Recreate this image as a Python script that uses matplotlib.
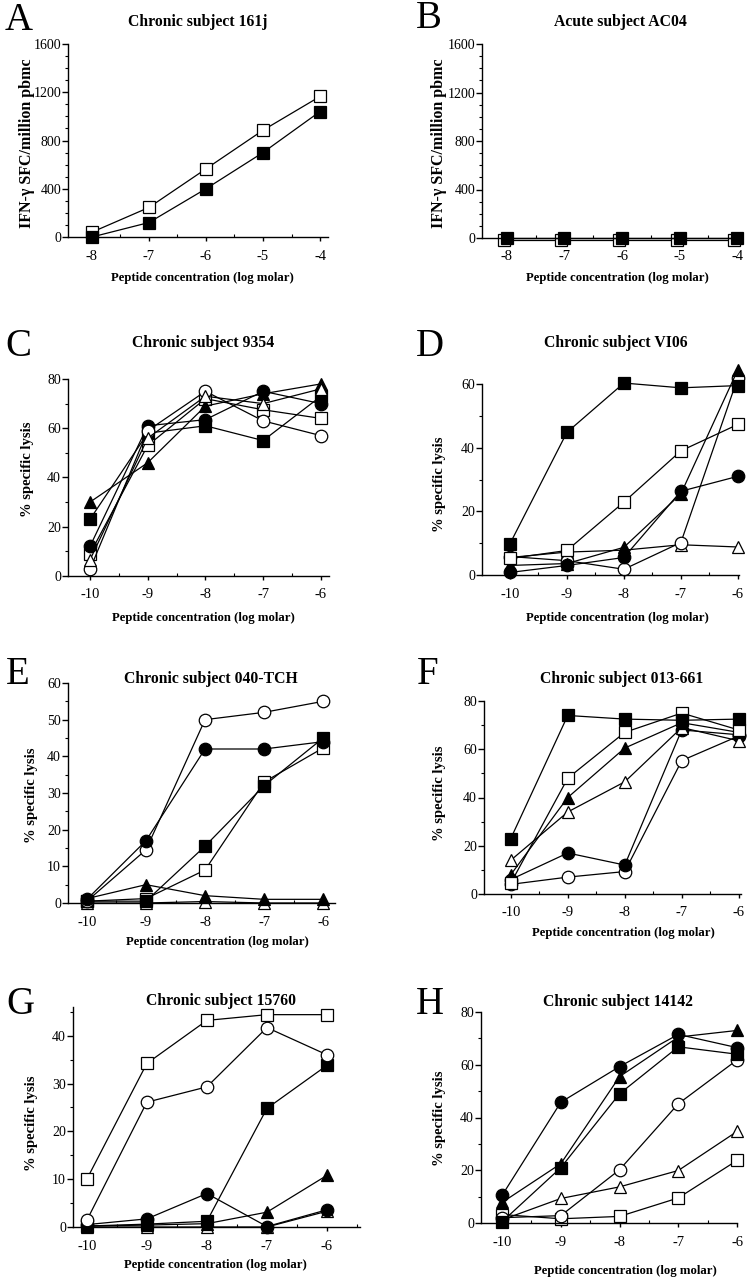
import matplotlib
matplotlib.use("Agg")
import matplotlib.pyplot as plt
from matplotlib.ticker import MultipleLocator
import matplotlib.transforms as mtransforms

plt.rcParams['font.family'] = ['Liberation Serif', 'DejaVu Serif']

W, H = 751, 1280

# peptide concentrations (log molar)
x_ifn = [-8, -7, -6, -5, -4]
x_lysis = [-10, -9, -8, -7, -6]

# A / B : IFN-gamma SFC per million pbmc
a_open_sq = [40, 245, 565, 885, 1165]
a_filled_sq = [0, 120, 400, 700, 1040]
b_open_sq = [0, 0, 0, 0, 0]
b_filled_sq = [0, 0, 0, 0, 0]

# C..H : % specific lysis
c_fsq = [23, 58, 61, 55, 73]
c_osq = [9, 53, 72, 67.5, 64]
c_fci = [12, 61, 63.5, 75, 70]
c_oci = [2.7, 59, 75, 63, 57]
c_ftr = [30, 46, 69, 74, 78]
c_otr = [6.5, 56, 73, 70, 76]

d_fsq = [9.8, 44.8, 60.3, 58.8, 59.5]
d_osq = [5.2, 7.7, 22.9, 39, 47.3]
d_fci = [0.8, 3, 5.5, 26.3, 31]
d_oci = [5.8, 4.5, 1.8, 10.2, 62]
d_ftr = [3, 3.6, 8.7, 25.5, 64.5]
d_otr = [5.5, 7.2, 7.8, 9.5, 8.8]

e_oci = [0.5, 14.5, 50, 52, 55]
e_fci = [1, 17, 42, 42, 44]
e_fsq = [0.5, 0.5, 15.5, 32, 45]
e_osq = [0.5, 1.2, 9, 33, 42.3]
e_ftr = [1.2, 5, 2, 1, 1]
e_otr = [0, 0, 0.4, 0, 0]

f_fsq = [23, 74, 72.5, 72, 72.5]
f_osq = [4.5, 48, 67, 75, 68]
f_ftr = [8, 40, 60.5, 71, 67]
f_otr = [14, 34, 46.5, 69, 63.5]
f_fci = [6, 17, 12, 68, 66]
f_oci = [4, 7, 9.3, 55.3, 65.5]

g_osq = [10, 34.2, 43.2, 44.4, 44.4]
g_oci = [1.4, 26.1, 29.3, 41.7, 36]
g_fsq = [0.2, 0.6, 1.2, 24.8, 33.8]
g_fci = [0.5, 1.7, 7, 0.1, 3.6]
g_ftr = [0.2, 0.4, 0.7, 3.1, 10.8]
g_otr = [0, 0, 0, 0, 3.3]

h_fci = [10.5, 45.8, 59.3, 71.5, 66.5]
h_ftr = [7.8, 22.5, 55.5, 70.5, 73]
h_fsq = [0.5, 21, 49, 66.8, 64]
h_oci = [2, 2.8, 20.2, 45.2, 61.8]
h_otr = [1.2, 9.3, 13.7, 19.9, 34.7]
h_osq = [3.2, 1.6, 2.5, 9.5, 23.7]

titles = ["Chronic subject 161j", "Acute subject AC04", "Chronic subject 9354",
          "Chronic subject VI06", "Chronic subject 040-TCH", "Chronic subject 013-661",
          "Chronic subject 15760", "Chronic subject 14142"]
letters = list("ABCDEFGH")

fig = plt.figure(figsize=(W / 100, H / 100), dpi=100)


def px_axes(left, right, top, bottom):
    return fig.add_axes([left / W, 1 - bottom / H, (right - left) / W, (bottom - top) / H])


def ftext(x, y, s, **kw):
    fig.text(x / W, 1 - y / H, s, ha='center', va='center', **kw)


STY = {
    'fsq': dict(marker='s', mfc='black', ms=8.5),
    'osq': dict(marker='s', mfc='white', ms=8.5),
    'fci': dict(marker='o', mfc='black', ms=9),
    'oci': dict(marker='o', mfc='white', ms=9),
    'ftr': dict(marker='^', mfc='black', ms=9),
    'otr': dict(marker='^', mfc='white', ms=9),
}


def draw(ax, x, series, offset=None):
    for key, y in series:
        kw = dict(color='black', lw=0.9, mec='black', mew=0.9, clip_on=False)
        kw.update(STY[key])
        if offset is not None and key == 'osq':
            kw['transform'] = ax.transData + offset
        ax.plot(x, y, **kw)


def style(ax, xlim, ylim, ymaj, ymin, xt):
    ax.set_xlim(*xlim)
    ax.set_ylim(*ylim)
    for s in ['top', 'right']:
        ax.spines[s].set_visible(False)
    ax.spines['left'].set_linewidth(1)
    ax.spines['bottom'].set_linewidth(1)
    ax.set_xticks(xt)
    ax.set_xticklabels([str(v) for v in xt])
    ax.xaxis.set_minor_locator(MultipleLocator(0.5))
    ax.yaxis.set_major_locator(MultipleLocator(ymaj))
    ax.yaxis.set_minor_locator(MultipleLocator(ymin))
    ax.tick_params(axis='y', which='major', direction='out', length=4, width=1,
                   labelsize=10, pad=1)
    ax.tick_params(axis='y', which='minor', direction='out', length=2.5, width=0.8)
    ax.tick_params(axis='x', which='major', direction='out', length=3, width=1,
                   labelsize=10.5, pad=6)
    ax.tick_params(axis='x', which='minor', direction='in', length=2.5, width=0.8)
    ax.patch.set_alpha(0)


# layout in pixels: left, right, top, bottom
axA = px_axes(68, 328, 44, 237)
axB = px_axes(482, 739, 44, 238)
axC = px_axes(68, 329, 379, 576)
axD = px_axes(482, 739, 384, 575)
axE = px_axes(68, 335, 683, 903)
axF = px_axes(484, 741, 701, 894)
axG = px_axes(73, 360, 1007, 1227)
axH = px_axes(481, 737, 1012, 1223)

draw(axA, x_ifn, [('osq', a_open_sq), ('fsq', a_filled_sq)])
style(axA, (-8.42, -3.86), (0, 1600), 400, 100, x_ifn)

shift = mtransforms.ScaledTranslation(-3 / 100, -2 / 100, fig.dpi_scale_trans)
draw(axB, x_ifn, [('osq', b_open_sq), ('fsq', b_filled_sq)], offset=shift)
style(axB, (-8.43, -3.97), (0, 1600), 400, 100, x_ifn)

draw(axC, x_lysis, [('fsq', c_fsq), ('osq', c_osq), ('fci', c_fci),
                    ('oci', c_oci), ('ftr', c_ftr), ('otr', c_otr)])
style(axC, (-10.38, -5.86), (0, 80), 20, 10, x_lysis)

draw(axD, x_lysis, [('otr', d_otr), ('oci', d_oci), ('fci', d_fci),
                    ('ftr', d_ftr), ('osq', d_osq), ('fsq', d_fsq)])
style(axD, (-10.49, -5.98), (0, 60), 20, 10, x_lysis)

draw(axE, x_lysis, [('otr', e_otr), ('ftr', e_ftr), ('osq', e_osq),
                    ('fsq', e_fsq), ('oci', e_oci), ('fci', e_fci)])
style(axE, (-10.32, -5.8), (0, 60), 10, 5, x_lysis)

draw(axF, x_lysis, [('oci', f_oci), ('fci', f_fci), ('otr', f_otr),
                    ('ftr', f_ftr), ('osq', f_osq), ('fsq', f_fsq)])
style(axF, (-10.47, -5.96), (0, 80), 20, 10, x_lysis)

draw(axG, x_lysis, [('otr', g_otr), ('ftr', g_ftr), ('fci', g_fci),
                    ('fsq', g_fsq), ('oci', g_oci), ('osq', g_osq)])
style(axG, (-10.23, -5.45), (0, 46), 10, 5, x_lysis)

draw(axH, x_lysis, [('osq', h_osq), ('otr', h_otr), ('oci', h_oci),
                    ('fsq', h_fsq), ('ftr', h_ftr), ('fci', h_fci)])
style(axH, (-10.36, -6.0), (0, 80), 20, 10, x_lysis)

# titles, panel letters, axis labels (pixel positions)
title_pos = [(198, 22), (620, 22), (203, 343), (616, 343),
             (211, 679), (622, 679), (221, 1001), (618, 1002)]
letter_pos = [(19, 20), (429, 18), (18, 347), (430, 347),
              (18, 674), (428, 675), (20, 1004), (430, 1004)]
xlab_pos = [(202, 278), (617, 278), (203, 618), (617, 618),
            (217, 942), (623, 933), (215, 1265), (625, 1271)]
ylab_pos = [(27, 143), (439, 143), (28, 469), (440, 484),
            (32, 795), (440, 793), (32, 1123), (440, 1118)]
ylabels = ["IFN-γ SFC/million pbmc"] * 2 + ["% specific lysis"] * 6
ylab_size = [11.5, 11.5] + [10.5] * 6

for i in range(8):
    ftext(*title_pos[i], titles[i], fontsize=11.3, fontweight='bold')
    ftext(*letter_pos[i], letters[i], fontsize=28)
    ftext(*xlab_pos[i], "Peptide concentration (log molar)", fontsize=9.2,
          fontweight='bold')
    ftext(*ylab_pos[i], ylabels[i], fontsize=ylab_size[i], fontweight='bold',
          rotation=90)

fig.savefig("out.png", dpi=100)
